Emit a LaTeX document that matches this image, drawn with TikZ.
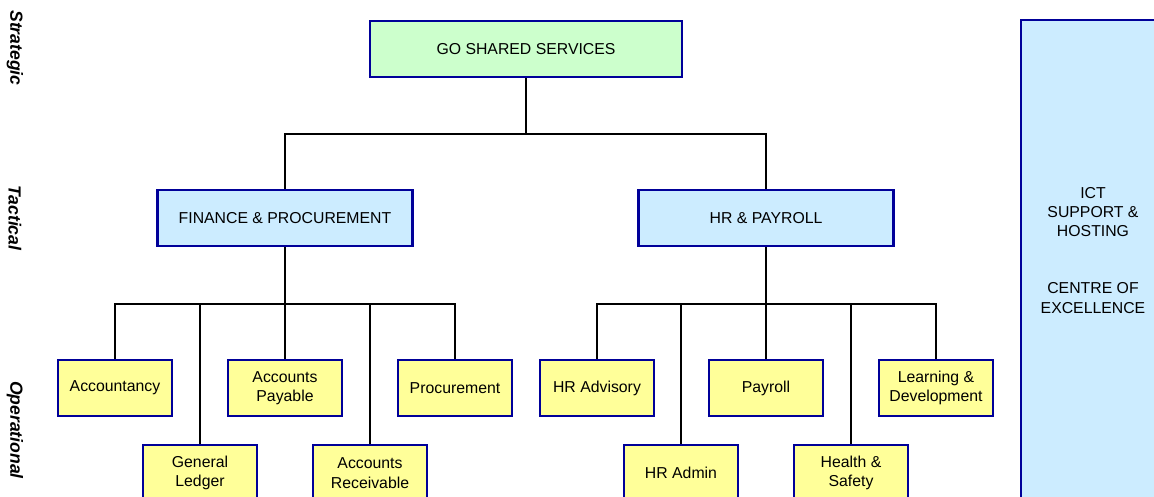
\documentclass[tikz,border=0pt]{standalone}
\usepackage{fontspec}
\setmainfont{Liberation Sans}
\definecolor{boxline}{RGB}{0,0,153}
\definecolor{greenfill}{RGB}{204,255,204}
\definecolor{bluefill}{RGB}{204,236,255}
\definecolor{yellowfill}{RGB}{255,255,153}
\begin{document}
\begin{tikzpicture}[x=0.02cm, y=-0.02cm,
		box/.style={draw=boxline, line width=1.3pt, inner sep=0pt, align=center, font=\fontsize{9}{11}\selectfont},
		topbox/.style={box, fill=greenfill, minimum width=6.24cm, minimum height=1.12cm},
		unitbox/.style={box, fill=bluefill, minimum width=5.1cm, minimum height=1.12cm},
		teambox/.style={box, fill=yellowfill, minimum width=2.28cm, minimum height=1.12cm},
		level/.style={rotate=-90, font=\fontsize{10}{12}\selectfont\bfseries\itshape},
		link/.style={line width=1.1pt}]
	\useasboundingbox (0,0) rectangle (1154,497);

	\node[level] (strat) at (15,48) {Strategic};
	\node[level] (tact) at (15,218) {Tactical};
	\node[level] (oper) at (15,430) {Operational};

	\node[topbox] (gss) at (526,49) {GO SHARED SERVICES};
	\node[unitbox] (fin) at (285,218) {FINANCE \& PROCUREMENT};
	\node[unitbox] (hr) at (766,218) {HR \& PAYROLL};

	\node[teambox] (acc) at (115,388) {Accountancy};
	\node[teambox] (ap) at (285,388) {Accounts\\Payable};
	\node[teambox] (proc) at (455,388) {Procurement};
	\node[teambox] (gl) at (200,473) {General\\Ledger};
	\node[teambox] (ar) at (370,473) {Accounts\\Receivable};

	\node[teambox] (hradv) at (597,388) {HR Advisory};
	\node[teambox] (pay) at (766,388) {Payroll};
	\node[teambox] (ld) at (936,388) {Learning \&\\Development};
	\node[teambox] (hradm) at (681,473) {HR Admin};
	\node[teambox] (hs) at (851,473) {Health \&\\Safety};

	\node[box, fill=bluefill, minimum width=2.88cm, minimum height=9.8cm] (ict) at (1093,265) {};
	\node[font=\fontsize{9}{11}\selectfont, align=center] (ictsup) at (1093,212) {ICT\\SUPPORT \&\\HOSTING};
	\node[font=\fontsize{9}{11}\selectfont, align=center] (coe) at (1093,298) {CENTRE OF\\EXCELLENCE};

	\draw[link] (gss.south) -- ++(0,56) coordinate (topbus);
	\draw[link] (fin.north) |- (topbus) -| (hr.north);
	\draw[link] (fin.south) -- ++(0,57) coordinate (finbus);
	\foreach \t in {acc,gl,ap,ar,proc}
		\draw[link] (finbus) -| (\t.north);
	\draw[link] (hr.south) -- ++(0,57) coordinate (hrbus);
	\foreach \t in {hradv,hradm,pay,hs,ld}
		\draw[link] (hrbus) -| (\t.north);
\end{tikzpicture}
\end{document}
